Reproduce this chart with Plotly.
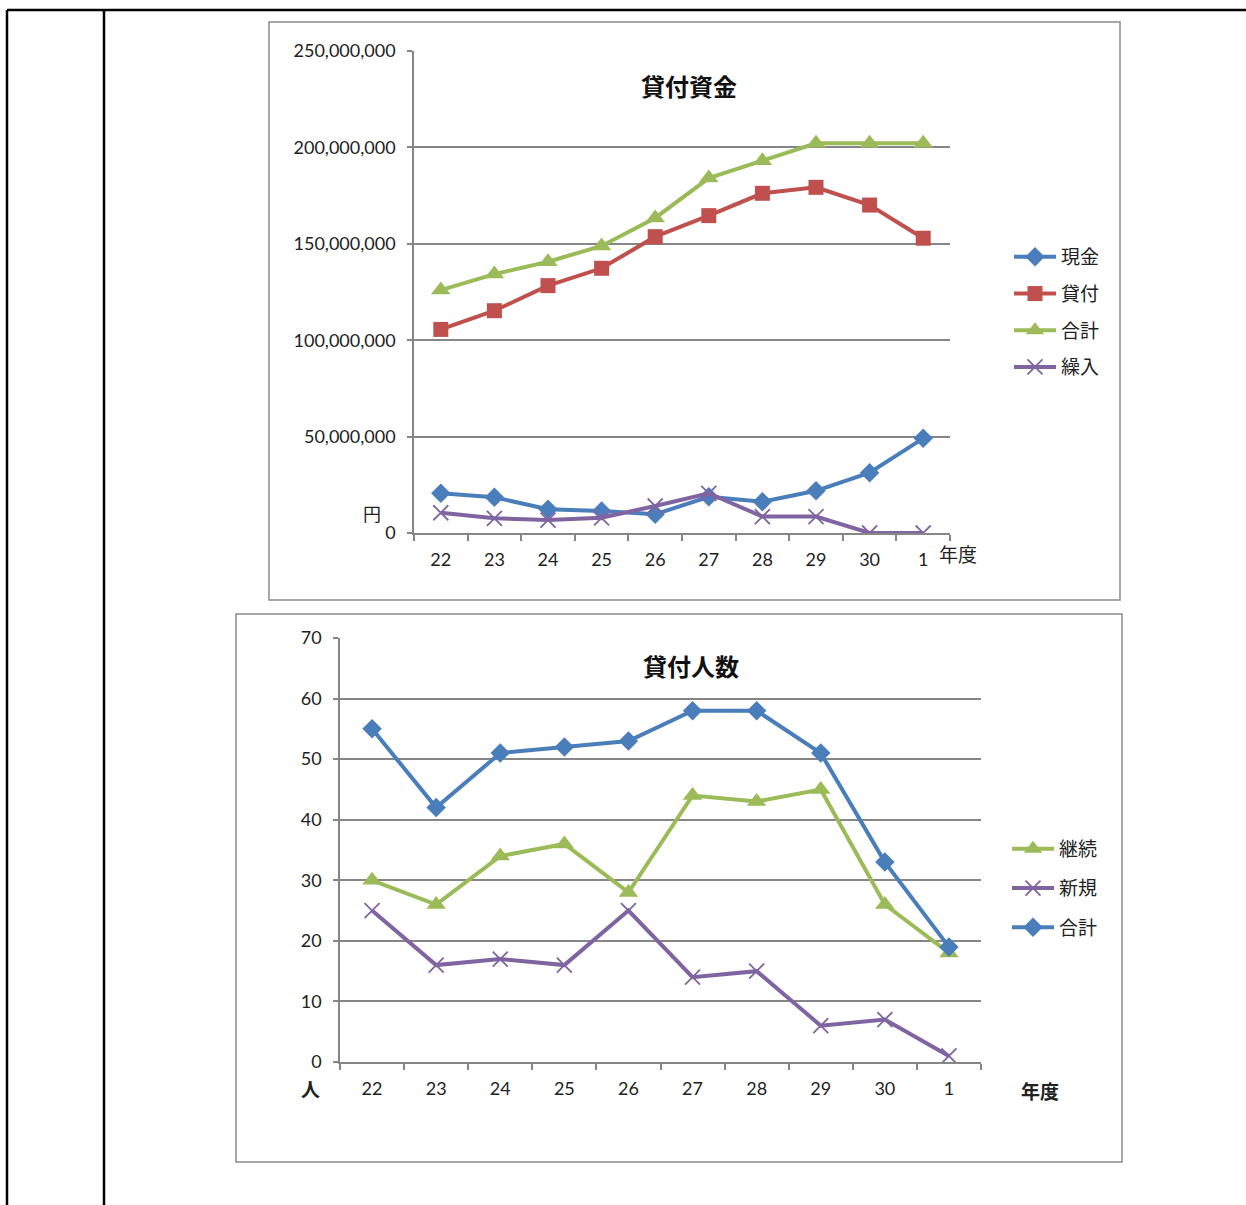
import plotly.graph_objects as go

# ---------------- data ----------------
years = ["22", "23", "24", "25", "26", "27", "28", "29", "30", "1"]

# 貸付資金 (円)
genkin = [20600000, 18500000, 12300000, 11400000, 9700000, 18800000, 16200000, 21900000, 31300000, 49100000]
kashitsuke = [105600000, 115300000, 128300000, 137300000, 153700000, 164600000, 176200000, 179300000, 170100000, 152900000]
goukei_yen = [126000000, 134300000, 140700000, 148900000, 163400000, 184100000, 193100000, 202100000, 202100000, 202100000]
kurire = [10500000, 7600000, 6700000, 7900000, 14000000, 20600000, 8500000, 8500000, 0, 0]

# 貸付人数 (人)
keizoku = [30, 26, 34, 36, 28, 44, 43, 45, 26, 18]
shinki = [25, 16, 17, 16, 25, 14, 15, 6, 7, 1]
goukei_nin = [55, 42, 51, 52, 53, 58, 58, 51, 33, 19]

# ---------------- style ----------------
W, H = 1246, 1205
BLUE = "#4A7EBB"
RED = "#C0504D"
GREEN = "#9BBB59"
PURPLE = "#8064A2"
GRID = "#868686"
FONT = "Lato, 'Noto Sans CJK JP', sans-serif"
JFONT = "'Noto Sans CJK JP', sans-serif"


def fx(x):
    return x / W


def fy(y):
    return 1 - y / H


fig = go.Figure()

LW = 4


def add(x, y, name, color, symbol, size, xa, ya, legend, mline=0):
    marker = dict(symbol=symbol, size=size, color=color)
    if mline:
        marker["line"] = dict(width=mline, color=color)
    fig.add_trace(go.Scatter(
        x=x, y=y, name=name, mode="lines+markers",
        line=dict(color=color, width=LW), marker=marker,
        xaxis=xa, yaxis=ya, legend=legend, legendgroup=name + legend,
    ))


add(years, genkin, "現金", BLUE, "diamond", 15, "x", "y", "legend")
add(years, kashitsuke, "貸付", RED, "square", 15, "x", "y", "legend")
add(years, goukei_yen, "合計", GREEN, "triangle-up", 17, "x", "y", "legend")
add(years, kurire, "繰入", PURPLE, "x-thin", 15, "x", "y", "legend", mline=1.8)

add(years, keizoku, "継続", GREEN, "triangle-up", 17, "x2", "y2", "legend2")
add(years, shinki, "新規", PURPLE, "x-thin", 15, "x2", "y2", "legend2", mline=1.8)
add(years, goukei_nin, "合計", BLUE, "diamond", 15, "x2", "y2", "legend2")

xcommon = dict(type="category", range=[-0.5, 9.5], showgrid=False, showline=True,
               linecolor=GRID, linewidth=1.5, ticks="outside", tickson="boundaries",
               ticklen=6, tickcolor=GRID, tickwidth=1.5, automargin=False,
               tickfont=dict(family=FONT, size=18, color="#222"), zeroline=False)
ycommon = dict(showgrid=True, gridcolor=GRID, gridwidth=1.5, showline=True,
               linecolor=GRID, linewidth=1.5, ticks="outside", ticklen=5,
               tickcolor=GRID, tickwidth=1.5, zeroline=False, automargin=False,
               tickfont=dict(family=FONT, size=18, color="#222"))

fig.update_layout(
    template="none",
    width=W, height=H, margin=dict(l=0, r=0, t=0, b=0, pad=0, autoexpand=False),
    paper_bgcolor="white", plot_bgcolor="white",
    xaxis=dict(xcommon, domain=[fx(414), fx(950)], anchor="y", ticklabelstandoff=10),
    yaxis=dict(ycommon, domain=[fy(533), fy(51)], anchor="x", range=[0, 250000000],
               dtick=50000000, tickformat=",d", ticklabelstandoff=8),
    xaxis2=dict(xcommon, domain=[fx(340), fx(981)], anchor="y2", ticklabelstandoff=10),
    yaxis2=dict(ycommon, domain=[fy(1062), fy(638)], anchor="x2", range=[0, 70],
                dtick=10, ticklabelstandoff=8),
    legend=dict(x=fx(1009), y=fy(238), xanchor="left", yanchor="top",
                font=dict(family=JFONT, size=19, color="#222"), itemwidth=42,
                tracegroupgap=9, bgcolor="rgba(0,0,0,0)"),
    legend2=dict(x=fx(1007), y=fy(830), xanchor="left", yanchor="top",
                 font=dict(family=JFONT, size=19, color="#222"), itemwidth=42,
                 tracegroupgap=11.5, bgcolor="rgba(0,0,0,0)"),
    showlegend=True,
)

shapes = [
    dict(type="line", xref="paper", yref="paper", x0=fx(7), x1=1, y0=fy(10), y1=fy(10),
         line=dict(color="black", width=2.5)),
    dict(type="line", xref="paper", yref="paper", x0=fx(7), x1=fx(7), y0=fy(10), y1=0,
         line=dict(color="black", width=2.5)),
    dict(type="line", xref="paper", yref="paper", x0=fx(104), x1=fx(104), y0=fy(10), y1=0,
         line=dict(color="black", width=2.5)),
    dict(type="rect", xref="paper", yref="paper", x0=fx(269), x1=fx(1120), y0=fy(600), y1=fy(22),
         line=dict(color="#8a8a8a", width=1.5)),
    dict(type="rect", xref="paper", yref="paper", x0=fx(236), x1=fx(1122), y0=fy(1162), y1=fy(614),
         line=dict(color="#8a8a8a", width=1.5)),
]
fig.update_layout(shapes=shapes)

ann = [
    dict(text="<b>貸付資金</b>", x=fx(689), y=fy(86), font=dict(family=JFONT, size=24, color="#111")),
    dict(text="<b>貸付人数</b>", x=fx(691), y=fy(665), font=dict(family=JFONT, size=24, color="#111")),
    dict(text="円", x=fx(372), y=fy(513), font=dict(family=JFONT, size=18, color="#222")),
    dict(text="年度", x=fx(958), y=fy(554), font=dict(family=JFONT, size=19, color="#222")),
    dict(text="<b>人</b>", x=fx(310), y=fy(1088), font=dict(family=JFONT, size=19, color="#222")),
    dict(text="<b>年度</b>", x=fx(1040), y=fy(1090), font=dict(family=JFONT, size=19, color="#222")),
]
for a in ann:
    a.update(xref="paper", yref="paper", showarrow=False, xanchor="center", yanchor="middle")
fig.update_layout(annotations=ann)

fig.write_html("out.html")
